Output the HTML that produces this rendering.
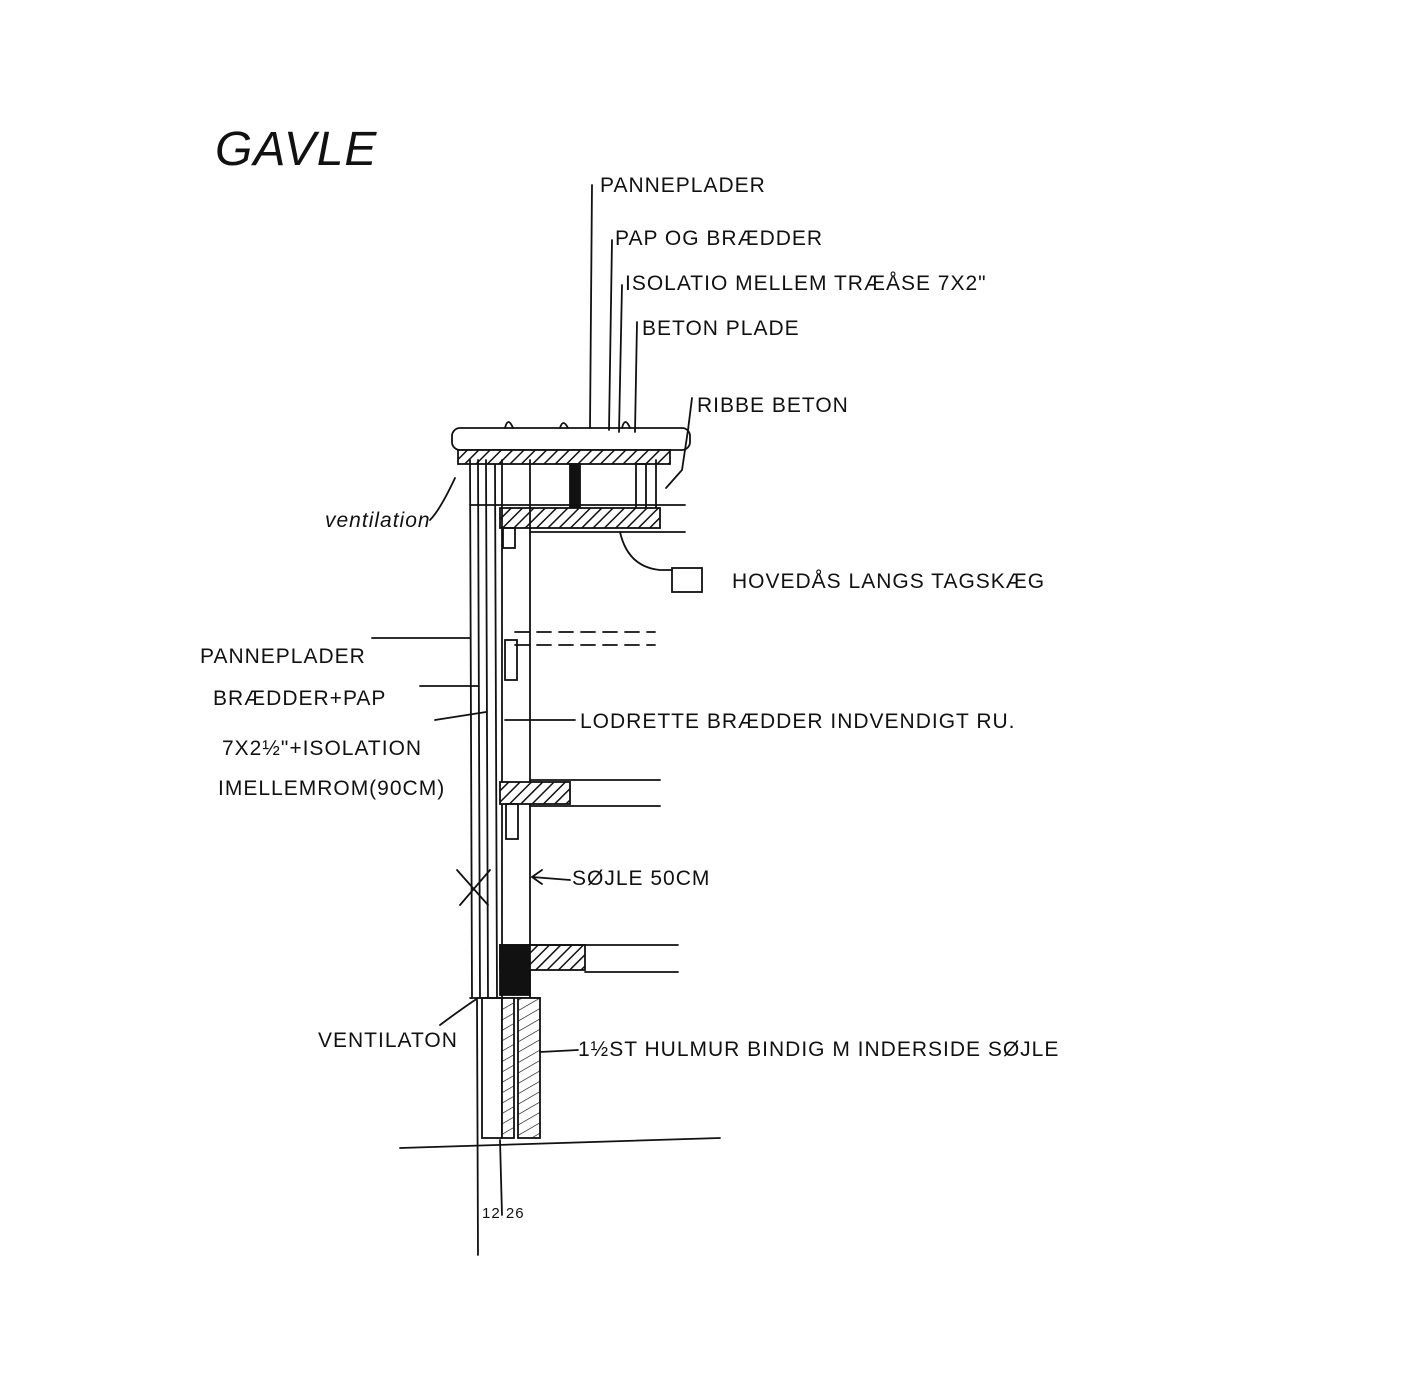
<!DOCTYPE html>
<html><head><meta charset="utf-8"><style>
html,body{margin:0;padding:0;background:#fff}
svg{display:block}
text{font-family:"Liberation Sans",sans-serif;fill:#111;letter-spacing:1px}
</style></head><body>
<svg width="1411" height="1396" viewBox="0 0 1411 1396" xmlns="http://www.w3.org/2000/svg">
<defs>
<pattern id="h" width="8" height="8" patternUnits="userSpaceOnUse" patternTransform="rotate(45)">
<rect width="8" height="8" fill="#fff"/><line x1="0" y1="0" x2="0" y2="8" stroke="#111" stroke-width="3"/></pattern>
<pattern id="h2" width="9" height="9" patternUnits="userSpaceOnUse" patternTransform="rotate(60)">
<rect width="9" height="9" fill="#fff"/><line x1="0" y1="0" x2="0" y2="9" stroke="#111" stroke-width="1.3"/></pattern>
</defs>
<g stroke="#111" fill="none" stroke-width="1.8" stroke-linecap="round">
<!-- title -->
<text x="215" y="165" font-size="48" stroke="none" style="font-style:italic">GAVLE</text>
<!-- top leaders -->
<line x1="592" y1="185" x2="590" y2="428"/>
<line x1="612" y1="240" x2="609" y2="430"/>
<line x1="622" y1="285" x2="619" y2="432"/>
<line x1="637" y1="322" x2="635" y2="432"/>
<path d="M692 398 L688 430 L682 470 L666 488"/>
<!-- roof slab -->
<rect x="452" y="428" width="238" height="22" rx="8"/>
<rect x="458" y="450" width="212" height="14" fill="url(#h)"/>
<path d="M505 428 q3 -12 8 0 M560 428 q3 -10 8 0 M622 428 q3 -12 8 0"/>
<rect x="570" y="464" width="10" height="45" fill="#111"/>
<rect x="636" y="464" width="10" height="45"/>
<line x1="656" y1="460" x2="656" y2="510"/>
<!-- second slab -->
<line x1="470" y1="505" x2="685" y2="505"/>
<rect x="500" y="508" width="160" height="20" fill="url(#h)"/>
<line x1="530" y1="532" x2="685" y2="532"/>
<rect x="503" y="528" width="12" height="20"/>
<path d="M620 532 q8 35 40 38 L672 570"/>
<!-- wall verticals -->
<line x1="470" y1="460" x2="472" y2="998"/>
<line x1="478" y1="460" x2="480" y2="998"/>
<line x1="486" y1="460" x2="488" y2="998"/>
<line x1="495" y1="465" x2="497" y2="998"/>
<line x1="502" y1="460" x2="502" y2="998"/>
<line x1="530" y1="460" x2="530" y2="998"/>
<line x1="470" y1="998" x2="540" y2="998"/>
<!-- dashed floor -->
<path d="M515 632 h140 M515 645 h140" stroke-dasharray="14 8"/>
<rect x="505" y="640" width="12" height="40"/>
<!-- floors -->
<rect x="500" y="782" width="70" height="22" fill="url(#h)"/>
<line x1="530" y1="780" x2="660" y2="780"/>
<line x1="530" y1="806" x2="660" y2="806"/>
<rect x="506" y="804" width="12" height="35"/>
<rect x="500" y="945" width="85" height="25" fill="url(#h)"/>
<rect x="500" y="945" width="30" height="50" fill="#111"/>
<line x1="530" y1="945" x2="678" y2="945"/>
<line x1="585" y1="972" x2="678" y2="972"/>
<!-- masonry -->
<rect x="482" y="998" width="20" height="140"/>
<rect x="502" y="998" width="12" height="140" fill="url(#h2)"/>
<rect x="518" y="998" width="22" height="140" fill="url(#h2)"/>
<line x1="400" y1="1148" x2="720" y2="1138"/>
<line x1="477" y1="1000" x2="478" y2="1255"/>
<line x1="500" y1="1140" x2="502" y2="1215"/>
<!-- left leaders -->
<path d="M455 478 Q440 510 430 520"/>
<line x1="372" y1="638" x2="470" y2="638"/>
<line x1="420" y1="686" x2="478" y2="686"/>
<line x1="435" y1="720" x2="486" y2="712"/>
<line x1="457" y1="870" x2="488" y2="905"/>
<line x1="460" y1="905" x2="490" y2="870"/>
<path d="M440 1025 Q460 1010 478 998"/>
<!-- right leaders -->
<line x1="505" y1="720" x2="575" y2="720"/>
<path d="M570 880 L532 877 M542 870 L532 877 L542 884"/>
<line x1="540" y1="1052" x2="578" y2="1050"/>
<rect x="672" y="568" width="30" height="24"/>
</g>
<!-- labels -->
<g font-size="21">
<text x="600" y="192">PANNEPLADER</text>
<text x="615" y="245">PAP OG BRÆDDER</text>
<text x="625" y="290">ISOLATIO MELLEM TRÆÅSE 7X2"</text>
<text x="642" y="335">BETON PLADE</text>
<text x="697" y="412">RIBBE BETON</text>
<text x="325" y="527" style="font-style:italic">ventilation</text>
<text x="732" y="588">HOVEDÅS LANGS TAGSKÆG</text>
<text x="200" y="663">PANNEPLADER</text>
<text x="213" y="705">BRÆDDER+PAP</text>
<text x="580" y="728">LODRETTE BRÆDDER INDVENDIGT RU.</text>
<text x="222" y="755">7X2½"+ISOLATION</text>
<text x="218" y="795">IMELLEMROM(90CM)</text>
<text x="572" y="885">SØJLE 50CM</text>
<text x="318" y="1047">VENTILATON</text>
<text x="578" y="1056">1½ST HULMUR BINDIG M INDERSIDE SØJLE</text>
<text x="482" y="1218" font-size="15">12 26</text>
</g>
</svg>
</body></html>
